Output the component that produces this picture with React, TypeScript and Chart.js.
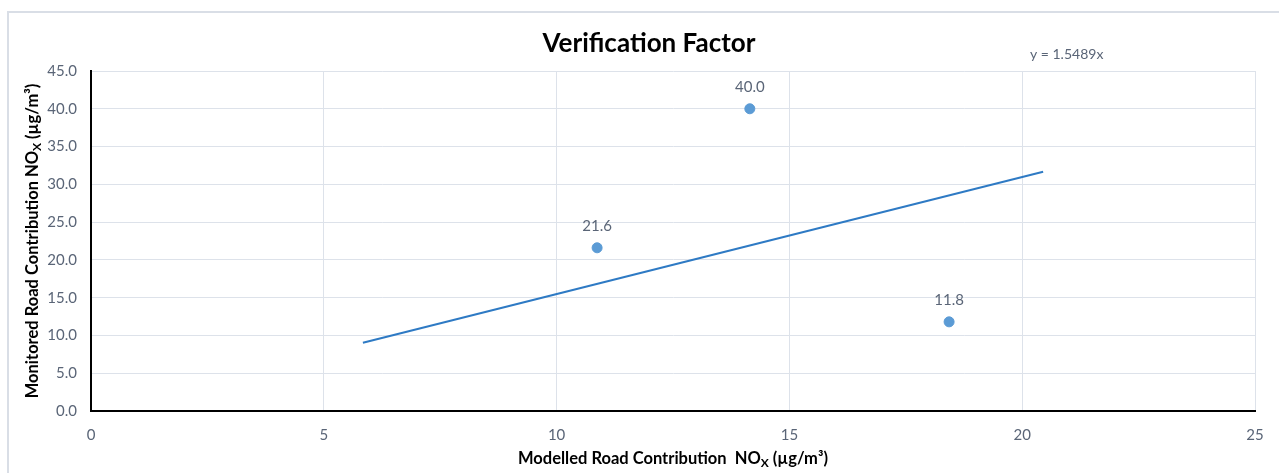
import React, { useEffect, useRef } from "react";
import { Chart, registerables } from "chart.js";

Chart.register(...registerables);

const modelled: number[] = [10.87, 14.15, 18.43];
const monitored: number[] = [21.6, 40.0, 11.8];
const trendX: number[] = [5.84, 20.45];
const slope = 1.5489;
const title = "Verification Factor";
const equation = "y = 1.5489x";
const xTicks: number[] = [0, 5, 10, 15, 20, 25];
const yTicks: number[] = [0, 5, 10, 15, 20, 25, 30, 35, 40, 45];

const FONT = "Lato, 'Open Sans', sans-serif";
const TICK_COLOR = "#5a6577";
const GRID = "#dde2ea";

function drawRich(ctx: CanvasRenderingContext2D, parts: { t: string; sub?: boolean }[], size: number, cx: number, cy: number) {
  let total = 0;
  const widths: number[] = [];
  for (const p of parts) {
    ctx.font = `bold ${p.sub ? Math.round(size * 0.7) : size}px ${FONT}`;
    const w = ctx.measureText(p.t).width;
    widths.push(w);
    total += w;
  }
  let x = cx - total / 2;
  parts.forEach((p, i) => {
    ctx.font = `bold ${p.sub ? Math.round(size * 0.7) : size}px ${FONT}`;
    ctx.fillText(p.t, x, p.sub ? cy + size * 0.25 : cy);
    x += widths[i];
  });
}

const extrasPlugin = {
  id: "extras",
  beforeDraw(chart: any) {
    const ctx = chart.ctx as CanvasRenderingContext2D;
    ctx.save();
    ctx.fillStyle = "#ffffff";
    ctx.fillRect(0, 0, chart.width, chart.height);
    ctx.strokeStyle = "#d9dee6";
    ctx.lineWidth = 2;
    ctx.beginPath();
    ctx.moveTo(8, chart.height + 5);
    ctx.lineTo(8, 12);
    ctx.lineTo(chart.width + 5, 12);
    ctx.stroke();
    ctx.restore();
  },
  afterDraw(chart: any) {
    const ctx = chart.ctx as CanvasRenderingContext2D;
    const area = chart.chartArea;
    ctx.save();
    // title
    ctx.fillStyle = "#000000";
    ctx.textAlign = "center";
    ctx.textBaseline = "middle";
    ctx.font = `bold 26px ${FONT}`;
    ctx.fillText(title, 649, 44);
    // equation
    ctx.font = `14px ${FONT}`;
    ctx.fillStyle = TICK_COLOR;
    ctx.textAlign = "left";
    ctx.fillText(equation, 1030, 54);
    // data labels
    ctx.textAlign = "center";
    ctx.font = `15px ${FONT}`;
    const meta = chart.getDatasetMeta(1);
    meta.data.forEach((pt: any, i: number) => {
      ctx.fillText(monitored[i].toFixed(1), pt.x, pt.y - 22);
    });
    // axis titles
    ctx.fillStyle = "#000000";
    ctx.textAlign = "left";
    ctx.textBaseline = "middle";
    const xParts = [
      { t: "Modelled Road Contribution  NO" },
      { t: "X", sub: true },
      { t: " (\u00b5g/m\u00b3)" },
    ];
    drawRich(ctx, xParts, 16.5, (area.left + area.right) / 2, 459);
    ctx.save();
    ctx.translate(33, (area.top + area.bottom) / 2);
    ctx.rotate(-Math.PI / 2);
    const yParts = [
      { t: "Monitored Road Contribution NO" },
      { t: "X", sub: true },
      { t: " (\u00b5g/m\u00b3)" },
    ];
    drawRich(ctx, yParts, 16.5, 0, 0);
    ctx.restore();
    ctx.restore();
  },
};

export default function App() {
  const ref = useRef<HTMLCanvasElement | null>(null);
  useEffect(() => {
    if (!ref.current) return;
    const chart = new Chart(ref.current, {
      type: "scatter",
      data: {
        datasets: [
          {
            type: "line",
            label: "Trend",
            data: trendX.map((x) => ({ x, y: slope * x })),
            borderColor: "#2e7ac4",
            borderWidth: 2,
            pointRadius: 0,
            fill: false,
          } as any,
          {
            label: "Sites",
            data: modelled.map((x, i) => ({ x, y: monitored[i] })),
            backgroundColor: "#5b9bd5",
            borderColor: "#5b9bd5",
            pointRadius: 5,
          },
        ],
      },
      options: {
        animation: false,
        responsive: false,
        maintainAspectRatio: false,
        layout: { padding: { left: 0, top: 71, right: 24, bottom: 0 } },
        plugins: { legend: { display: false }, title: { display: false }, tooltip: { enabled: false } },
        scales: {
          x: {
            type: "linear",
            min: 0,
            max: 25,
            afterFit: (s: any) => { s.height = 62; },
            afterBuildTicks: (s: any) => { s.ticks = xTicks.map((v) => ({ value: v })); },
            grid: { color: GRID, lineWidth: 1, drawTicks: false },
            border: { color: "#000000", width: 2 },
            ticks: { color: TICK_COLOR, padding: 15, font: { family: FONT, size: 15 }, callback: (v: any) => String(v) },
          },
          y: {
            type: "linear",
            min: 0,
            max: 45,
            afterFit: (s: any) => { s.width = 91; },
            afterBuildTicks: (s: any) => { s.ticks = yTicks.map((v) => ({ value: v })); },
            grid: { color: GRID, lineWidth: 1, drawTicks: false },
            border: { color: "#000000", width: 2 },
            ticks: { color: TICK_COLOR, padding: 14, font: { family: FONT, size: 15 }, callback: (v: any) => Number(v).toFixed(1) },
          },
        },
      },
      plugins: [extrasPlugin],
    });
    return () => chart.destroy();
  }, []);
  return (
    <div style={{ position: "fixed", left: 0, top: 0, width: 1279, height: 473 }}>
      <canvas ref={ref} width={1279} height={473} style={{ width: 1279, height: 473, display: "block" }} />
    </div>
  );
}
